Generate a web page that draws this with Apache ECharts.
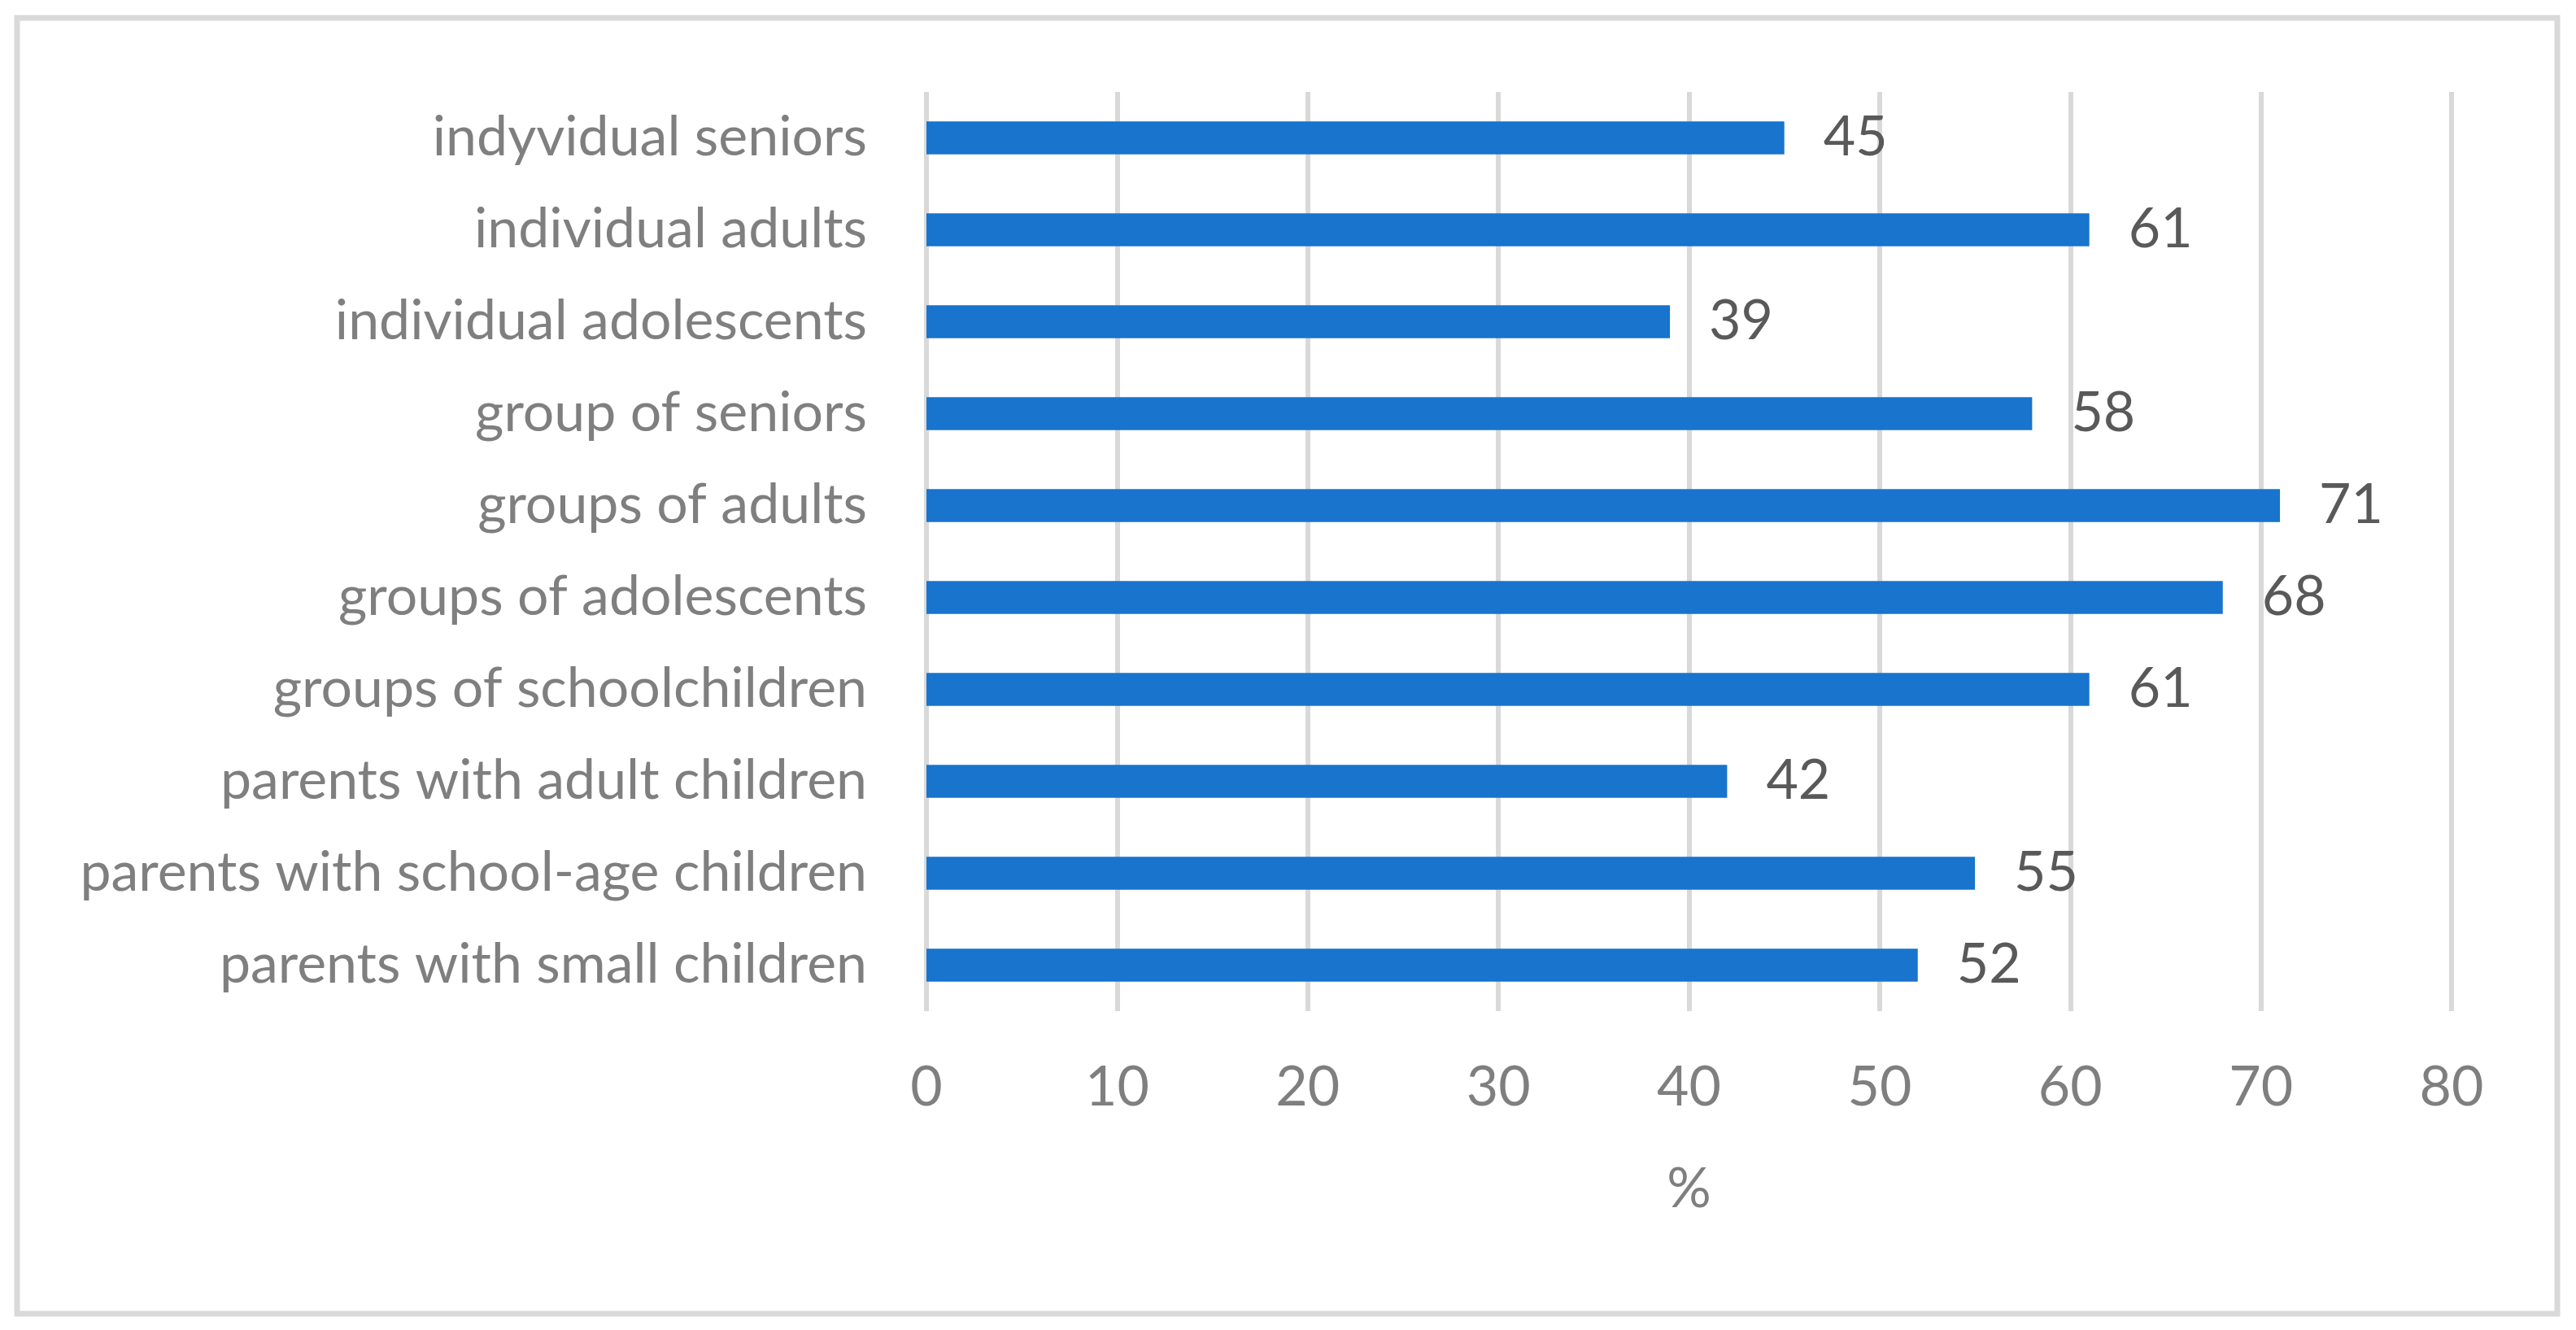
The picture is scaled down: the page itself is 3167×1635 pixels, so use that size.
<!DOCTYPE html>
<html>
<head>
<meta charset="utf-8">
<script src="https://cdn.jsdelivr.net/npm/echarts@6/dist/echarts.min.js"></script>
<style>
html,body{margin:0;padding:0;background:#fff;}
#chart{width:3167px;height:1635px;}
</style>
</head>
<body>
<div id="chart"></div>
<script>
const categories = [
  "parents with small children",
  "parents with school-age children",
  "parents with adult children",
  "groups of schoolchildren",
  "groups of adolescents",
  "groups of adults",
  "group of seniors",
  "individual adolescents",
  "individual adults",
  "indyvidual seniors"
];
const values = [52, 55, 42, 61, 68, 71, 58, 39, 61, 45];
const axisName = "%";

const FONT = "Lato";
const chart = echarts.init(document.getElementById('chart'), null, {renderer: 'canvas'});
chart.setOption({
  animation: false,
  backgroundColor: '#ffffff',
  graphic: [{
    type: 'rect',
    shape: {x: 21, y: 22, width: 3123, height: 1593},
    style: {fill: 'none', stroke: '#d9d9d9', lineWidth: 7}
  }],
  grid: {left: 1139, right: 153, top: 113, bottom: 392, containLabel: false},
  xAxis: {
    type: 'value',
    min: 0, max: 80, interval: 10,
    name: axisName,
    nameLocation: 'middle',
    nameGap: 185,
    nameTextStyle: {fontFamily: FONT, fontSize: 68, color: '#7f7f7f'},
    axisLine: {show: false},
    axisTick: {show: false},
    axisLabel: {fontFamily: FONT, fontSize: 68, color: '#7f7f7f', margin: 60},
    splitLine: {show: true, lineStyle: {color: '#d9d9d9', width: 6}}
  },
  yAxis: {
    type: 'category',
    data: categories,
    axisLine: {show: false},
    axisTick: {show: false},
    axisLabel: {fontFamily: FONT, fontSize: 68, color: '#7f7f7f', margin: 73},
    splitLine: {show: false}
  },
  series: [{
    type: 'bar',
    data: values,
    barCategoryGap: '64%',
    itemStyle: {color: '#1874cd'},
    label: {
      show: true,
      position: 'right',
      distance: 48,
      fontFamily: FONT,
      fontSize: 68,
      color: '#595959'
    }
  }]
});
</script>
</body>
</html>
